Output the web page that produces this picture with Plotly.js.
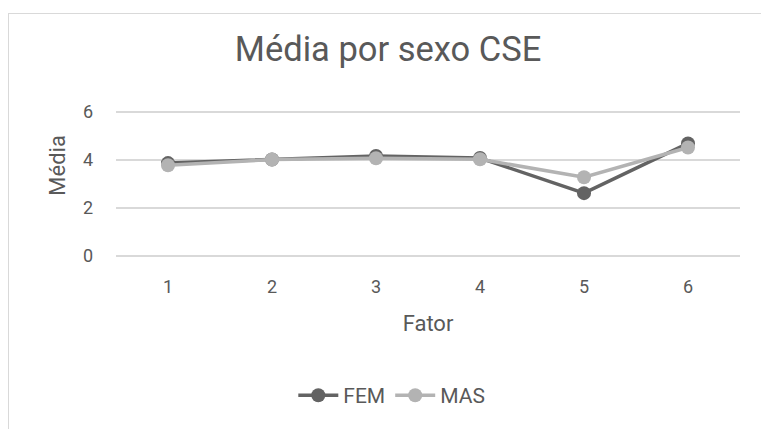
<!DOCTYPE html>
<html><head><meta charset="utf-8">
<script src="https://cdn.plot.ly/plotly-3.0.1.min.js"></script>
<style>
html,body{margin:0;padding:0;background:#fff;overflow:hidden}
#frame{position:absolute;left:8px;top:13px;width:820px;height:500px;border:1.5px solid #d9d9d9;box-sizing:border-box}
#chart{position:absolute;left:0;top:0;width:761px;height:429px}
</style></head><body>
<div id="frame"></div>
<div id="chart"></div>
<script>
const categories = [1, 2, 3, 4, 5, 6];
const femValues = [3.87, 4.02, 4.17, 4.08, 2.62, 4.69];
const masValues = [3.78, 4.02, 4.07, 4.03, 3.28, 4.52];
const yTicks = [0, 2, 4, 6];

const txt = '#595959';
const traces = [
  {x: categories, y: femValues, name: 'FEM', type: 'scatter', mode: 'lines+markers',
   line: {color: '#636363', width: 3.5}, marker: {color: '#636363', size: 14}, cliponaxis: false},
  {x: categories, y: masValues, name: 'MAS', type: 'scatter', mode: 'lines+markers',
   line: {color: '#b3b3b3', width: 3.5}, marker: {color: '#b3b3b3', size: 14}, cliponaxis: false}
];
const layout = {
  width: 761, height: 429,
  paper_bgcolor: 'rgba(0,0,0,0)', plot_bgcolor: 'rgba(0,0,0,0)',
  margin: {l: 116, r: 21, t: 110, b: 170.5},
  font: {family: 'Roboto, sans-serif', color: txt, size: 18},
  title: {text: 'Média por sexo CSE', x: 0.51, xref: 'container', y: 0.885, yref: 'container', yanchor: 'middle',
          font: {size: 34.5, color: txt}},
  xaxis: {range: [0.5, 6.5], tickvals: categories, ticktext: categories.map(String),
          showgrid: false, zeroline: false, showline: false, ticks: '', ticklabelstandoff: 16,
          title: {text: 'Fator', standoff: 19, font: {size: 22, color: txt}}, tickfont: {size: 18, color: txt}},
  yaxis: {range: [-0.08, 6.08], tickvals: yTicks, showgrid: true, gridcolor: '#d9d9d9', gridwidth: 1.5,
          zeroline: false, showline: false, ticks: '', ticklabelstandoff: 22, tickfont: {size: 18, color: txt}},
  annotations: [{text: 'Média', xref: 'paper', yref: 'paper', x: -0.093, y: 0.63, xanchor: 'center', yanchor: 'middle',
                 textangle: -90, showarrow: false, font: {size: 22, color: txt}}],
  legend: {orientation: 'h', x: 0.442, xanchor: 'center', y: -0.93, yanchor: 'middle',
           font: {size: 21, color: txt}, itemwidth: 40},
  showlegend: true
};
Plotly.newPlot('chart', traces, layout, {displayModeBar: false, staticPlot: true});
</script></body></html>
